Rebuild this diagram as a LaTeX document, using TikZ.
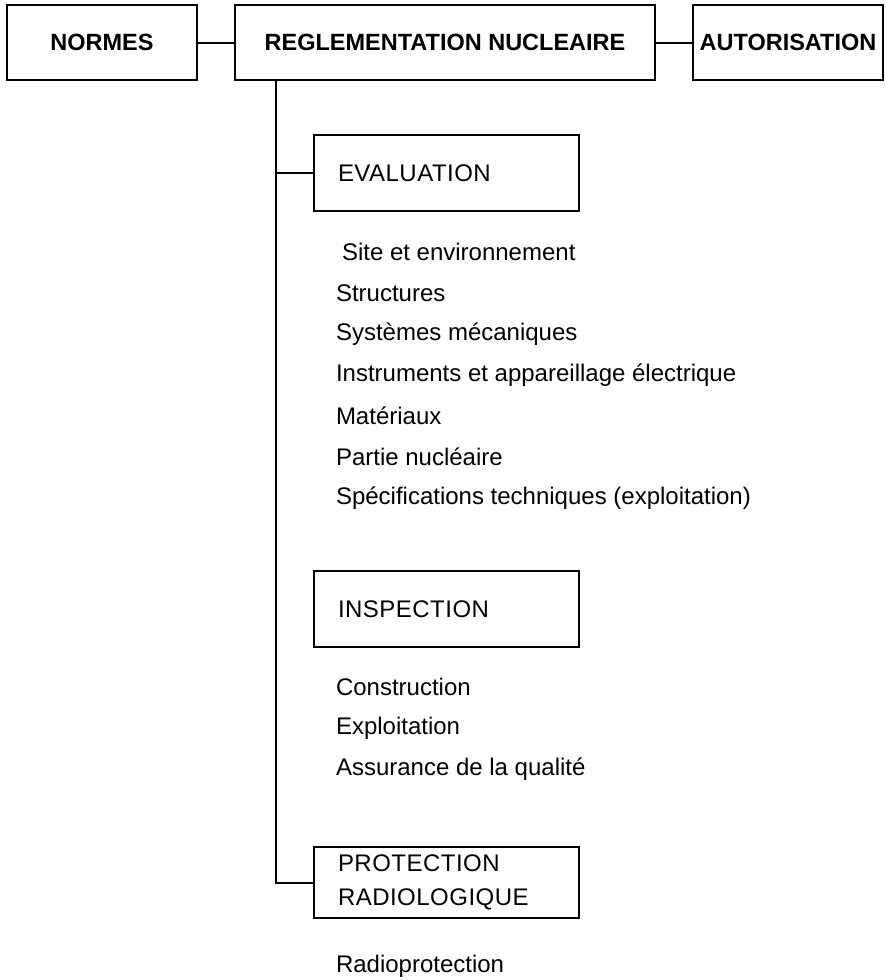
\documentclass[tikz,border=0pt]{standalone}
\usepackage{fontspec}
\setmainfont{Liberation Sans}
\newfontfamily\boxfont[LetterSpace=2]{Liberation Sans}
\begin{document}
\begin{tikzpicture}[x=1pt,y=1pt,
  line width=2pt,
  topbox/.style={draw, minimum height=75pt, inner sep=0pt,
    font=\fontsize{23.5}{28}\selectfont\bfseries},
  subbox/.style={draw, anchor=north west, inner xsep=24pt, inner ysep=0pt,
    text width=217pt, align=left, font=\boxfont\fontsize{24}{34}\selectfont},
  item/.style={anchor=west, inner sep=0pt, font=\fontsize{24}{28}\selectfont}]
\useasboundingbox (0,0) rectangle (886,-980);

\node[topbox, minimum width=190pt] (normes) at (102,-42.5) {NORMES};
\node[topbox, minimum width=420pt] (regl) at (445,-42.5) {REGLEMENTATION NUCLEAIRE};
\node[topbox, minimum width=190pt] (autor) at (788,-42.5) {AUTORISATION};
\draw (normes) -- (regl);
\draw (regl) -- (autor);

\node[subbox, minimum height=76pt] (eval) at (313,-134) {EVALUATION};
\node[subbox, minimum height=76pt] (insp) at (313,-570) {INSPECTION};
\node[subbox, minimum height=71pt] (prot) at (313,-846) {PROTECTION\\RADIOLOGIQUE};

\coordinate (tr) at (276,0);
\draw (regl.south -| tr) |- (prot.west);
\draw (eval.west) -- (eval.west -| tr);

\node[item] (e1) at (341,-252) {Site et environnement};
\node[item] (e2) at (335,-293) {Structures};
\node[item] (e3) at (335,-334) {Systèmes mécaniques};
\node[item] (e4) at (335,-375) {Instruments et appareillage électrique};
\node[item] (e5) at (335,-416) {Matériaux};
\node[item] (e6) at (335,-457) {Partie nucléaire};
\node[item] (e7) at (335,-498) {Spécifications techniques (exploitation)};

\node[item] (i1) at (335,-687) {Construction};
\node[item] (i2) at (335,-728) {Exploitation};
\node[item] (i3) at (335,-769) {Assurance de la qualité};

\node[item] (r1) at (335,-966) {Radioprotection};
\end{tikzpicture}
\end{document}
